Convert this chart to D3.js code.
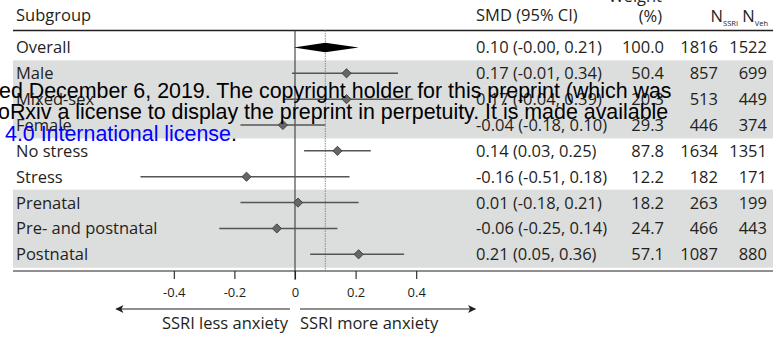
<!DOCTYPE html>
<html>
<head>
<meta charset="utf-8">
<script src="https://cdn.jsdelivr.net/npm/d3@7"></script>
<style>
  html, body { margin: 0; padding: 0; background: #fff; }
  svg { display: block; }
  text { font-family: "Open Sans", "Noto Sans", sans-serif; fill: #231f20; }
  text.notice { font-family: "Liberation Sans", Arial, sans-serif; font-size: 21.4px; fill: #000; }
</style>
</head>
<body>
<svg id="chart" width="773" height="338"></svg>
<script>
// Subgroup meta-analysis: standardized mean difference, SSRI vs vehicle
const subgroups = ["Overall", "Male", "Mixed-sex", "Female", "No stress", "Stress",
                   "Prenatal", "Pre- and postnatal", "Postnatal"];
const smd    = [0.10, 0.17, 0.17, -0.04, 0.14, -0.16, 0.01, -0.06, 0.21];
const ciLow  = [-0.004, -0.01, -0.04, -0.18, 0.03, -0.51, -0.18, -0.25, 0.05];
const ciHigh = [0.21, 0.34, 0.39, 0.10, 0.25, 0.18, 0.21, 0.14, 0.36];
const weights = [100.0, 50.4, 20.3, 29.3, 87.8, 12.2, 18.2, 24.7, 57.1];
const nSSRI  = [1816, 857, 513, 446, 1634, 182, 263, 466, 1087];
const nVeh   = [1522, 699, 449, 374, 1351, 171, 199, 443, 880];
const isSummary = [true, false, false, false, false, false, false, false, false];
const shaded    = [false, true, true, true, false, false, true, true, true];
const tickValues = [-0.4, -0.2, 0, 0.2, 0.4];
const arrowLabels = ["SSRI less anxiety", "SSRI more anxiety"];

const svg = d3.select("#chart");

// layout
const left = 13, right = 773;
const headerLine = 30.5;
const rowTop = 34.5, rowH = 25.86;
const axisY = 271;
const col = { label: 16, smd: 476, weight: 664, nSSRI: 718, nVeh: 767 };
const fs = "16.5px";

const x = d3.scaleLinear().domain([-0.5, 0.5]).range([143.5, 446.5]);
const y = d3.scaleBand().domain(d3.range(subgroups.length))
  .range([rowTop, rowTop + rowH * subgroups.length]).padding(0);
const cy = i => y(i) + y.bandwidth() / 2;

const fmt2 = v => (v < 0 ? "-" : "") + Math.abs(v).toFixed(2);
const fmt1 = d3.format(".1f");

// shaded row bands
svg.append("g").selectAll("rect")
  .data(d3.range(subgroups.length).filter(i => shaded[i]))
  .join("rect")
  .attr("x", left).attr("width", right - left)
  .attr("y", i => y(i)).attr("height", y.bandwidth() + 0.5)
  .attr("fill", "#dcdddd");

// header
const hdr = svg.append("g").style("font-size", fs);
hdr.append("text").attr("x", col.label).attr("y", 21).text("Subgroup");
hdr.append("text").attr("x", col.smd).attr("y", 21).text("SMD (95% CI)");
hdr.append("text").attr("x", 662).attr("y", 2).attr("text-anchor", "end").text("Weight");
hdr.append("text").attr("x", 662).attr("y", 22).attr("text-anchor", "end").text("(%)");
function nHeader(xEnd, sub) {
  const t = hdr.append("text").attr("x", xEnd).attr("y", 22).attr("text-anchor", "end");
  t.append("tspan").text("N");
  t.append("tspan").attr("dy", 3.5).style("font-size", "7.5px").text(sub);
}
nHeader(738, "SSRI");
nHeader(768, "Veh");

svg.append("line")
  .attr("x1", left).attr("x2", right).attr("y1", headerLine).attr("y2", headerLine)
  .attr("stroke", "#231f20").attr("stroke-width", 1.3);

// reference lines: no effect and pooled estimate
svg.append("line")
  .attr("x1", x(0)).attr("x2", x(0)).attr("y1", headerLine).attr("y2", axisY + 9)
  .attr("stroke", "#3a3a3a").attr("stroke-width", 1.1);
svg.append("line")
  .attr("x1", x(smd[0])).attr("x2", x(smd[0])).attr("y1", headerLine).attr("y2", axisY)
  .attr("stroke", "#8a8a8a").attr("stroke-width", 1).attr("stroke-dasharray", "1.5,1");

// subgroup rows
const rows = svg.append("g").selectAll("g")
  .data(d3.range(subgroups.length))
  .join("g");

rows.filter(i => !isSummary[i]).append("line")
  .attr("x1", i => x(ciLow[i])).attr("x2", i => x(ciHigh[i]))
  .attr("y1", cy).attr("y2", cy)
  .attr("stroke", "#555").attr("stroke-width", 1.5);

rows.filter(i => !isSummary[i]).append("path")
  .attr("d", i => {
    const cx = x(smd[i]), c = cy(i), r = 4.6;
    return `M${cx - r},${c}L${cx},${c - r}L${cx + r},${c}L${cx},${c + r}Z`;
  })
  .attr("fill", "#666").attr("stroke", "#3d3d3d").attr("stroke-width", 0.9);

rows.filter(i => isSummary[i]).append("path")
  .attr("d", i => {
    const c = cy(i), h = 4.8;
    return `M${x(ciLow[i])},${c}L${x(smd[i])},${c - h}L${x(ciHigh[i])},${c}L${x(smd[i])},${c + h}Z`;
  })
  .attr("fill", "#000");

const rowText = rows.append("g").style("font-size", fs);
rowText.append("text").attr("x", col.label).attr("y", i => cy(i) + 6)
  .text(i => subgroups[i]);
rowText.append("text").attr("x", col.smd).attr("y", i => cy(i) + 6)
  .text(i => `${fmt2(smd[i])} (${fmt2(ciLow[i])}, ${fmt2(ciHigh[i])})`);
rowText.append("text").attr("x", col.weight).attr("y", i => cy(i) + 6)
  .attr("text-anchor", "end").text(i => fmt1(weights[i]));
rowText.append("text").attr("x", col.nSSRI).attr("y", i => cy(i) + 6)
  .attr("text-anchor", "end").text(i => nSSRI[i]);
rowText.append("text").attr("x", col.nVeh).attr("y", i => cy(i) + 6)
  .attr("text-anchor", "end").text(i => nVeh[i]);

// x axis
svg.append("line")
  .attr("x1", left).attr("x2", right).attr("y1", axisY).attr("y2", axisY)
  .attr("stroke", "#231f20").attr("stroke-width", 1.2);
const axis = svg.append("g")
  .attr("transform", `translate(0,${axisY})`)
  .call(d3.axisBottom(x).tickValues(tickValues).tickSize(8).tickPadding(9)
    .tickFormat(d => d === 0 ? "0" : (d < 0 ? "-" : "") + Math.abs(d).toFixed(1)));
axis.select(".domain").remove();
axis.selectAll(".tick line").attr("stroke", "#231f20").attr("stroke-width", 1.1);
axis.selectAll(".tick text").style("font-size", "13px").style("font-family", "Open Sans")
  .attr("fill", "#231f20");

// direction arrows
const defs = svg.append("defs");
defs.append("marker").attr("id", "head")
  .attr("viewBox", "0 0 10 10").attr("refX", 9).attr("refY", 5)
  .attr("markerWidth", 10).attr("markerHeight", 8).attr("markerUnits", "userSpaceOnUse")
  .attr("orient", "auto")
  .append("path").attr("d", "M0,0L10,5L0,10L2.5,5Z").attr("fill", "#231f20");
const arrowY = 309;
svg.append("line")
  .attr("x1", x(0) - 5).attr("x2", x(-0.59)).attr("y1", arrowY).attr("y2", arrowY)
  .attr("stroke", "#231f20").attr("stroke-width", 1.2).attr("marker-end", "url(#head)");
svg.append("line")
  .attr("x1", x(0) + 5).attr("x2", x(0.595)).attr("y1", arrowY).attr("y2", arrowY)
  .attr("stroke", "#231f20").attr("stroke-width", 1.2).attr("marker-end", "url(#head)");
svg.append("text").attr("x", x(0) - 7).attr("y", 329).attr("text-anchor", "end")
  .style("font-size", fs).text(arrowLabels[0]);
svg.append("text").attr("x", x(0) + 5).attr("y", 329)
  .style("font-size", fs).text(arrowLabels[1]);

// preprint notice printed across the figure
const notice = svg.append("g");
notice.append("text").attr("class", "notice").attr("x", -1).attr("y", 97.5)
  .text("ed December 6, 2019. The copyright holder for this preprint (which was");
notice.append("text").attr("class", "notice").attr("x", -2).attr("y", 119)
  .text("oRxiv a license to display the preprint in perpetuity. It is made available");
const l3 = notice.append("text").attr("class", "notice").attr("x", 5).attr("y", 140.5);
l3.append("tspan").style("fill", "#0000ff").text("4.0 International license");
l3.append("tspan").text(".");
</script>
</body>
</html>
